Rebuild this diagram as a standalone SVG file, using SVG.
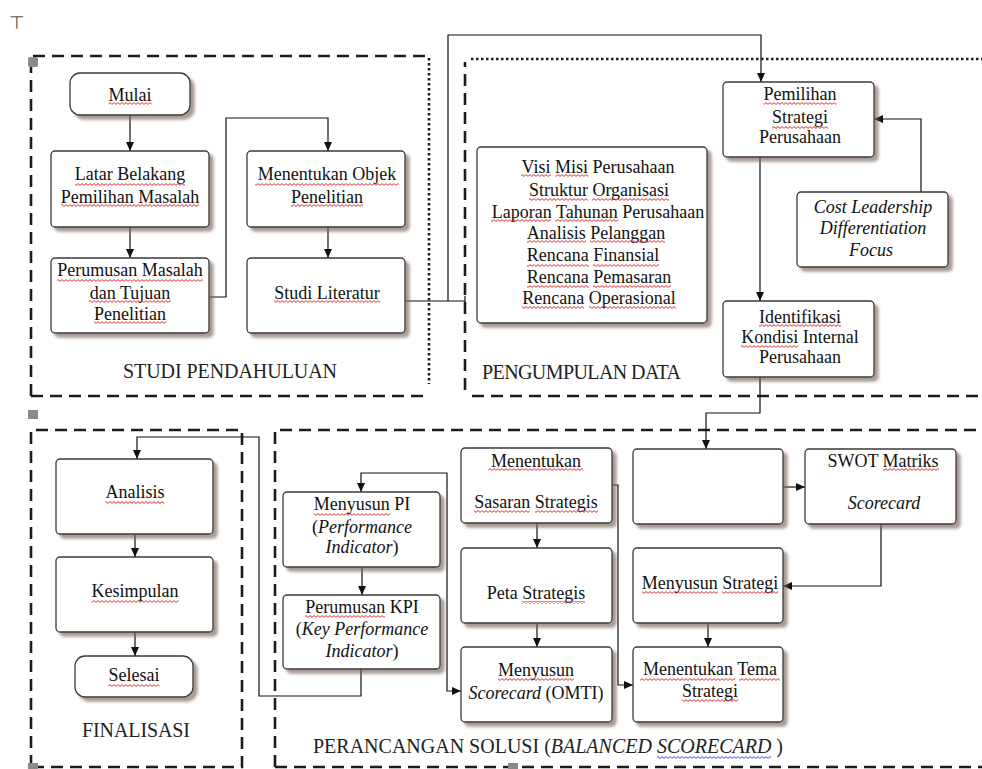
<svg xmlns="http://www.w3.org/2000/svg" width="982" height="769" viewBox="0 0 982 769">
<style>
  .box{fill:#fff;stroke:#3a3a3a;stroke-width:1.3;filter:url(#sh)}
  .t{font-family:"Liberation Serif","Times New Roman",serif;font-size:18px;fill:#111;text-anchor:middle}
  .cap{font-family:"Liberation Serif","Times New Roman",serif;font-size:20px;fill:#222}
  .i{font-style:italic}
  .dash{fill:none;stroke:#1c1c1c;stroke-width:2.6;stroke-dasharray:12 7}
  .dot{fill:none;stroke:#1c1c1c;stroke-width:2.6;stroke-dasharray:2.5 2.5}
  .c{fill:none;stroke:#111;stroke-width:1.2}
  .a{marker-end:url(#ah)}
  .sq{fill:#8a8a8a}
  .w{fill:url(#wv)}
  .wb{fill:url(#wvb)}
</style>
<defs>
  <filter id="sh" x="-10%" y="-10%" width="125%" height="130%">
    <feDropShadow dx="4" dy="4" stdDeviation="1.6" flood-color="#7a655a" flood-opacity="0.65"/>
  </filter>
  <marker id="ah" markerWidth="10" markerHeight="10" refX="9" refY="5" orient="auto" markerUnits="userSpaceOnUse">
    <path d="M0,1 L9,5 L0,9 Z" fill="#111"/>
  </marker>
  <pattern id="wv" width="4" height="3" patternUnits="userSpaceOnUse">
    <path d="M0,2.4 L2,0.6 L4,2.4" fill="none" stroke="#e01818" stroke-width="0.9"/>
  </pattern>
  <pattern id="wvb" width="4" height="3" patternUnits="userSpaceOnUse">
    <path d="M0,2.4 L2,0.6 L4,2.4" fill="none" stroke="#2a3ae0" stroke-width="0.9"/>
  </pattern>
</defs>
<rect width="982" height="769" fill="#fff"/>
<text x="9" y="29" font-family="DejaVu Sans, sans-serif" font-size="18" fill="#555">⊤</text>

<g id="frames">
  <path class="dash" d="M31,396 V56 H429"/>
  <path class="dash" d="M31,396 H428"/>
  <path class="dot" d="M429,58 V384"/>
  <path class="dash" d="M465,390 V62"/>
  <path class="dot" d="M471,59 H982"/>
  <path class="dash" d="M472,396 H982"/>
  <path class="dash" d="M31,767 V430 H242 V767 H31"/>
  <path class="dash" d="M275,767 V430 H982"/>
  <path class="dash" d="M275,767 H982"/>
  <rect class="sq" x="28" y="57" width="10" height="10" rx="2"/>
  <rect class="sq" x="28" y="410" width="10" height="9"/>
  <rect class="sq" x="28" y="763" width="10" height="6"/>
  <rect class="sq" x="508" y="763" width="10" height="6"/>
  <text class="cap" x="230" y="378" text-anchor="middle" textLength="214">STUDI PENDAHULUAN</text>
  <text class="cap" x="482" y="379" textLength="199">PENGUMPULAN DATA</text>
  <text class="cap" x="136" y="737" text-anchor="middle" textLength="108">FINALISASI</text>
  <text class="cap" x="313" y="753">PERANCANGAN SOLUSI (<tspan class="i">BALANCED SCORECARD </tspan>)</text>
  <rect class="wb" x="657" y="756" width="114" height="3"/>
</g>

<g id="connectors">
  <path class="c a" d="M130,115 V151"/>
  <path class="c a" d="M130,227 V258"/>
  <path class="c a" d="M209,297 H226 V118 H328 V151"/>
  <path class="c a" d="M328,227 V258"/>
  <path class="c" d="M405,301 H465 M465,296 V306"/>
  <path class="c a" d="M448,301 V35 H761 V82"/>
  <path class="c a" d="M921,192 V119 H874"/>
  <path class="c a" d="M760,157 V301"/>
  <path class="c a" d="M760,377 V413 H706 V449"/>
  <path class="c a" d="M783,487 H805"/>
  <path class="c a" d="M881,524 V586 H783"/>
  <path class="c a" d="M708,623 V647"/>
  <path class="c a" d="M612,485 H618 V685 H633"/>
  <path class="c a" d="M537,523 V548"/>
  <path class="c a" d="M537,623 V647"/>
  <path class="c a" d="M447,580 V473 H361 V492"/>
  <path class="c a" d="M447,580 V691 H461"/>
  <path class="c a" d="M362,567 V595"/>
  <path class="c a" d="M361,669 V696 H259 V437 H137 V459"/>
  <path class="c a" d="M135,534 V557"/>
  <path class="c a" d="M135,632 V656"/>
</g>

<g id="mulai"><rect class="box" x="70" y="73" width="120" height="42" rx="10"/>
  <text class="t" x="130" y="101">Mulai</text>
  <rect class="w" x="108.5" y="102" width="43" height="3"/></g>
<g id="latar"><rect class="box" x="51" y="151" width="158" height="76" rx="4"/>
  <text class="t" x="130" y="180">Latar Belakang</text>
  <text class="t" x="130" y="203">Pemilihan Masalah</text>
  <rect class="w" x="75" y="183" width="110" height="3"/>
  <rect class="w" x="61" y="204" width="138" height="3"/></g>
<g id="perumusan"><rect class="box" x="51" y="258" width="158" height="75" rx="4"/>
  <text class="t" x="130" y="276">Perumusan Masalah</text>
  <text class="t" x="130" y="299">dan Tujuan</text>
  <text class="t" x="130" y="320">Penelitian</text>
  <rect class="w" x="57" y="279" width="146" height="3"/>
  <rect class="w" x="89" y="300" width="82" height="3"/>
  <rect class="w" x="94" y="321" width="72" height="3"/></g>
<g id="objek"><rect class="box" x="247" y="151" width="158" height="76" rx="4"/>
  <text class="t" x="327" y="180">Menentukan Objek</text>
  <text class="t" x="327" y="203">Penelitian</text>
  <rect class="w" x="255" y="183" width="144" height="3"/>
  <rect class="w" x="291" y="204" width="72" height="3"/></g>
<g id="literatur"><rect class="box" x="247" y="258" width="158" height="75" rx="4"/>
  <text class="t" x="327" y="299">Studi Literatur</text>
  <rect class="w" x="274" y="300" width="106" height="3"/></g>
<g id="data"><rect class="box" x="477" y="147" width="230" height="176" rx="4"/>
  <text class="t" x="598" y="173">Visi Misi Perusahaan</text>
  <text class="t" x="599" y="196">Struktur Organisasi</text>
  <text class="t" x="598" y="218">Laporan Tahunan Perusahaan</text>
  <text class="t" x="596" y="239">Analisis Pelanggan</text>
  <text class="t" x="593" y="261">Rencana Finansial</text>
  <text class="t" x="599" y="283">Rencana Pemasaran</text>
  <text class="t" x="599" y="304">Rencana Operasional</text>
  <rect class="w" x="521" y="174" width="30" height="3"/>
  <rect class="w" x="555.5" y="174" width="33" height="3"/>
  <rect class="w" x="529" y="198" width="59" height="3"/>
  <rect class="w" x="592" y="198" width="77" height="3"/>
  <rect class="w" x="491" y="219" width="60" height="3"/>
  <rect class="w" x="555.5" y="219" width="63" height="3"/>
  <rect class="w" x="527" y="240" width="59" height="3"/>
  <rect class="w" x="590" y="240" width="75" height="3"/>
  <rect class="w" x="527" y="264" width="62" height="3"/>
  <rect class="w" x="593" y="264" width="66" height="3"/>
  <rect class="w" x="527" y="285" width="62" height="3"/>
  <rect class="w" x="593" y="285" width="78" height="3"/>
  <rect class="w" x="522" y="306" width="62" height="3"/>
  <rect class="w" x="589" y="306" width="87" height="3"/></g>
<g id="pemilihan"><rect class="box" x="723" y="82" width="151" height="75" rx="4"/>
  <text class="t" x="800" y="100">Pemilihan</text>
  <text class="t" x="800" y="123">Strategi</text>
  <text class="t" x="800" y="143">Perusahaan</text>
  <rect class="w" x="763.5" y="102" width="73" height="3"/>
  <rect class="w" x="772" y="126" width="56" height="3"/></g>
<g id="cost"><rect class="box" x="797" y="192" width="151" height="75" rx="4"/>
  <text class="t i" x="873" y="213">Cost Leadership</text>
  <text class="t i" x="873" y="234">Differentiation</text>
  <text class="t i" x="871" y="256">Focus</text></g>
<g id="identifikasi"><rect class="box" x="723" y="301" width="151" height="76" rx="4"/>
  <text class="t" x="800" y="323">Identifikasi</text>
  <text class="t" x="800" y="343">Kondisi Internal</text>
  <text class="t" x="800" y="363">Perusahaan</text>
  <rect class="w" x="759" y="324" width="82" height="3"/>
  <rect class="w" x="741" y="345" width="57" height="3"/></g>
<g id="analisis"><rect class="box" x="56" y="459" width="157" height="75" rx="4"/>
  <text class="t" x="135" y="498">Analisis</text>
  <rect class="w" x="105.5" y="501" width="59" height="3"/></g>
<g id="kesimpulan"><rect class="box" x="56" y="557" width="157" height="75" rx="4"/>
  <text class="t" x="135" y="597">Kesimpulan</text>
  <rect class="w" x="91.5" y="600" width="87" height="3"/></g>
<g id="selesai"><rect class="box" x="75" y="656" width="118" height="41" rx="10"/>
  <text class="t" x="134" y="681">Selesai</text>
  <rect class="w" x="108.5" y="684" width="51" height="3"/></g>
<g id="pi"><rect class="box" x="283" y="492" width="157" height="75" rx="4"/>
  <text class="t" x="362" y="510">Menyusun PI</text>
  <text class="t" x="362" y="533">(<tspan class="i">Performance</tspan></text>
  <text class="t" x="362" y="553"><tspan class="i">Indicator</tspan>)</text>
  <rect class="w" x="314" y="513" width="76" height="3"/></g>
<g id="kpi"><rect class="box" x="283" y="595" width="157" height="74" rx="4"/>
  <text class="t" x="362" y="613">Perumusan KPI</text>
  <text class="t" x="362" y="635">(<tspan class="i">Key Performance</tspan></text>
  <text class="t" x="362" y="657"><tspan class="i">Indicator</tspan>)</text>
  <rect class="w" x="305" y="615" width="80" height="3"/></g>
<g id="sasaran"><rect class="box" x="461" y="448" width="151" height="75" rx="4"/>
  <text class="t" x="536" y="467">Menentukan</text>
  <text class="t" x="536" y="508">Sasaran Strategis</text>
  <rect class="w" x="488.5" y="468" width="95" height="3"/>
  <rect class="w" x="474" y="510" width="56" height="3"/>
  <rect class="w" x="535" y="510" width="63" height="3"/></g>
<g id="peta"><rect class="box" x="461" y="548" width="151" height="75" rx="4"/>
  <text class="t" x="536" y="599">Peta Strategis</text>
  <rect class="w" x="522" y="601" width="63" height="3"/></g>
<g id="scorecard"><rect class="box" x="461" y="647" width="151" height="75" rx="4"/>
  <text class="t" x="536" y="676">Menyusun</text>
  <text class="t" x="536" y="699"><tspan class="i">Scorecard</tspan> (OMTI)</text>
  <rect class="w" x="498" y="678" width="76" height="3"/></g>
<g id="kosong"><rect class="box" x="633" y="449" width="150" height="75" rx="4"/></g>
<g id="swot"><rect class="box" x="805" y="449" width="151" height="75" rx="4"/>
  <text class="t" x="883" y="467">SWOT Matriks</text>
  <text class="t i" x="884" y="509">Scorecard</text>
  <rect class="w" x="883" y="468" width="56" height="3"/></g>
<g id="strategi"><rect class="box" x="633" y="548" width="150" height="75" rx="4"/>
  <text class="t" x="710" y="589">Menyusun Strategi</text>
  <rect class="w" x="642" y="591" width="76" height="3"/>
  <rect class="w" x="722" y="591" width="56" height="3"/></g>
<g id="tema"><rect class="box" x="633" y="647" width="150" height="75" rx="4"/>
  <text class="t" x="710" y="675">Menentukan Tema</text>
  <text class="t" x="710" y="697">Strategi</text>
  <rect class="w" x="640" y="678" width="95" height="3"/>
  <rect class="w" x="739" y="678" width="41" height="3"/>
  <rect class="w" x="682" y="699" width="56" height="3"/></g>
</svg>
